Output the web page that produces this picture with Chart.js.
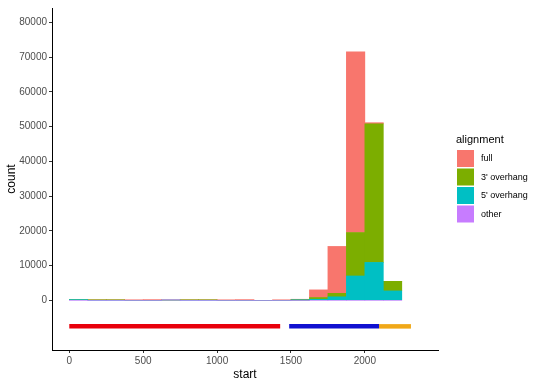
<!DOCTYPE html>
<html>
<head>
<meta charset="utf-8">
<script src="https://cdn.jsdelivr.net/npm/chart.js@4/dist/chart.umd.min.js"></script>
<style>
  html, body { margin: 0; padding: 0; background: #fff; }
  #wrap { width: 540px; height: 386px; position: relative; }
</style>
</head>
<body>
<div id="wrap"><canvas id="c"></canvas></div>
<script>
// Histogram bins (centres of bins of width 125, starting at 0)
const binCenters = [62.5, 187.5, 312.5, 437.5, 562.5, 687.5, 812.5, 937.5, 1062.5,
                    1187.5, 1312.5, 1437.5, 1562.5, 1687.5, 1812.5, 1937.5, 2062.5, 2187.5];
// Counts per alignment category
const fullCounts    = [0, 0, 0, 150, 200, 0, 0, 0, 80, 200, 0, 150, 150, 2200, 13500, 52000, 300, 0];
const overhang3     = [0, 150, 150, 0, 0, 0, 150, 150, 0, 0, 0, 0, 100, 500, 1000, 12500, 39900, 2750];
const overhang5     = [200, 0, 0, 0, 0, 0, 0, 0, 0, 0, 0, 0, 50, 300, 1000, 7000, 10900, 2700];
const otherCounts   = [0, 0, 0, 0, 0, 80, 0, 0, 0, 0, 0, 0, 0, 0, 0, 0, 0, 0];

const categoryNames = ["full", "3' overhang", "5' overhang", "other"];
const categoryColors = ["#F8766D", "#7CAE00", "#00BFC4", "#C77CFF"];

// Annotation segments under the histogram
const segLevel = -7500;
const segStarts = [0, 1488, 2096];
const segEnds   = [1427, 2096, 2312];
const segColors = ["#E8000B", "#1010D0", "#F0A818"];

const xTicks = [0, 500, 1000, 1500, 2000];
const yTicks = [0, 10000, 20000, 30000, 40000, 50000, 60000, 70000, 80000];

function pts(arr) { return binCenters.map((x, i) => ({ x: x, y: arr[i] })); }

const barSeries = [otherCounts, overhang5, overhang3, fullCounts];
const barNames = [categoryNames[3], categoryNames[2], categoryNames[1], categoryNames[0]];
const barCols = [categoryColors[3], categoryColors[2], categoryColors[1], categoryColors[0]];

const datasets = barSeries.map((s, i) => ({
  type: 'bar',
  label: barNames[i],
  data: pts(s),
  backgroundColor: barCols[i],
  borderWidth: 0,
  barPercentage: 1.0,
  categoryPercentage: 1.0,
  stack: 'hist'
}));

segStarts.forEach((s, i) => {
  datasets.push({
    type: 'line',
    label: 'seg' + i,
    data: [{ x: s, y: segLevel }, { x: segEnds[i], y: segLevel }],
    borderColor: segColors[i],
    borderWidth: 4.5,
    borderCapStyle: 'butt',
    pointRadius: 0,
    fill: false,
    stack: 'seg' + i
  });
});

const legendPlugin = {
  id: 'ggLegend',
  afterDraw(chart) {
    const ctx = chart.ctx;
    ctx.save();
    ctx.fillStyle = '#000';
    ctx.font = '11px "Liberation Sans", Arial, sans-serif';
    ctx.textAlign = 'left';
    ctx.textBaseline = 'middle';
    ctx.fillText('alignment', 456, 140);
    categoryNames.forEach((name, i) => {
      const y = 150 + i * 18.5;
      ctx.fillStyle = categoryColors[i];
      ctx.fillRect(457, y, 17, 17);
      ctx.fillStyle = '#000';
      ctx.font = '9px "Liberation Sans", Arial, sans-serif';
      ctx.fillText(name, 481, y + 9);
    });
    ctx.restore();
  }
};

const tickFont = { family: '"Liberation Sans", Arial, sans-serif', size: 10 };
const titleFont = { family: '"Liberation Sans", Arial, sans-serif', size: 12 };

new Chart(document.getElementById('c'), {
  data: { datasets: datasets },
  options: {
    responsive: true,
    maintainAspectRatio: false,
    animation: false,
    devicePixelRatio: 1,
    layout: { padding: { left: 0, right: 102, top: 6, bottom: 0 } },
    plugins: { legend: { display: false }, tooltip: { enabled: false } },
    scales: {
      x: {
        type: 'linear',
        stacked: true,
        offset: false,
        min: -117,
        max: 2495,
        afterBuildTicks(axis) { axis.ticks = xTicks.map(v => ({ value: v })); },
        afterFit(scale) { scale.height = 36; },
        grid: { display: true, offset: false, drawOnChartArea: false, drawTicks: true, tickLength: 3, color: '#333', lineWidth: 1 },
        border: { display: true, color: '#000', width: 1 },
        ticks: { color: '#4d4d4d', font: tickFont, padding: 2, maxRotation: 0, callback: v => String(v) },
        title: { display: true, text: 'start', color: '#000', font: titleFont, padding: { top: 0, bottom: 4 } }
      },
      y: {
        type: 'linear',
        stacked: true,
        min: -14300,
        max: 84100,
        afterBuildTicks(axis) { axis.ticks = yTicks.map(v => ({ value: v })); },
        afterFit(scale) { scale.width = 52; },
        grid: { display: true, drawOnChartArea: false, drawTicks: true, tickLength: 3, color: '#333', lineWidth: 1 },
        border: { display: true, color: '#000', width: 1 },
        ticks: { color: '#4d4d4d', font: tickFont, padding: 2, callback: v => String(v) },
        title: { display: true, text: 'count', color: '#000', font: titleFont, padding: { top: 4, bottom: 0 } }
      }
    }
  },
  plugins: [legendPlugin]
});
</script>
</body>
</html>
